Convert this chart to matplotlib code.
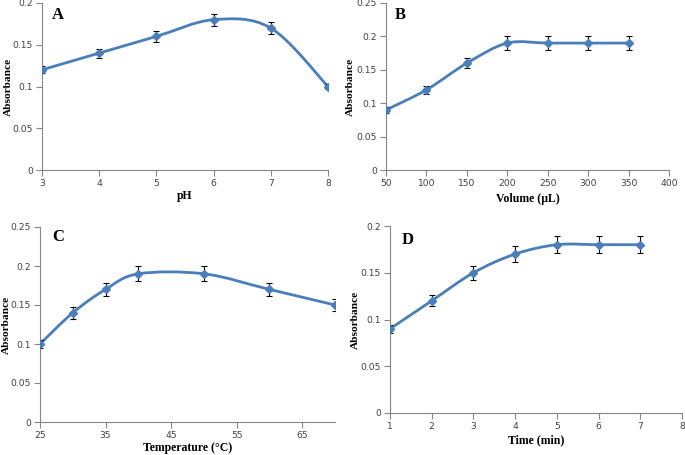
import numpy as np
import matplotlib
matplotlib.use('Agg')
import matplotlib.pyplot as plt
from matplotlib.path import Path
from matplotlib.patches import PathPatch

ph=[3,4,5,6,7,8]
abs_ph=[0.12,0.14,0.16,0.18,0.17,0.10]
err_ph=[0.004,0.0055,0.0065,0.007,0.007,0.0035]

vol=[50,100,150,200,250,300,350]
abs_vol=[0.09,0.12,0.16,0.19,0.19,0.19,0.19]
err_vol=[0.004,0.006,0.008,0.01,0.01,0.01,0.01]

temp=[25,30,35,40,50,60,70]
abs_temp=[0.10,0.14,0.17,0.19,0.19,0.17,0.15]
err_temp=[0.0045,0.008,0.0085,0.0095,0.0095,0.0085,0.008]

tmin=[1,2,3,4,5,6,7]
abs_time=[0.09,0.12,0.15,0.17,0.18,0.18,0.18]
err_time=[0.0045,0.006,0.0075,0.009,0.0093,0.0093,0.0093]

BLUE='#4a7ebb'
GREY='#868686'
SERIF='Liberation Serif'
W,H=685,455

def smooth_path(x,y):
    # excel-like smoothed line: cubic bezier through the points
    p=np.column_stack([x,y]).astype(float)
    n=len(p)
    verts=[p[0]]
    codes=[Path.MOVETO]
    for i in range(n-1):
        p0=p[i-1] if i>0 else p[i]
        p1=p[i]
        p2=p[i+1]
        p3=p[i+2] if i+2<n else p[i+1]
        verts+=[p1+(p2-p0)/6.0,p2-(p3-p1)/6.0,p2]
        codes+=[Path.CURVE4]*3
    return Path(verts,codes)

def panel(box,x,y,err,xlim,xticks,ylim,yticks,xlabel,letter,lpos,ylab_x,xlab_y):
    # box in pixels: left, top, right, bottom
    l,t,r,b=box
    ax=fig.add_axes([l/W,1-b/H,(r-l)/W,(b-t)/H])
    ax.add_patch(PathPatch(smooth_path(x,y),fill=False,edgecolor=BLUE,lw=2.0,zorder=3))
    ax.errorbar(x,y,yerr=err,fmt='D',color=BLUE,ms=4.5,ecolor='black',elinewidth=0.8,capsize=2.5,capthick=0.8,zorder=4)
    ax.set_xlim(*xlim)
    ax.set_ylim(*ylim)
    ax.set_xticks(xticks)
    ax.set_yticks(yticks)
    ax.set_yticklabels([('%g'%v) for v in yticks])
    for s in ['top','right']:
        ax.spines[s].set_visible(False)
    for s in ['left','bottom']:
        ax.spines[s].set_color(GREY)
        ax.spines[s].set_linewidth(0.8)
    ax.tick_params(direction='out',length=4,width=0.8,color=GREY,labelsize=6.6,labelcolor='#404040',pad=2.5)
    ax.set_xlabel(xlabel,fontfamily=SERIF,fontweight='bold',fontsize=8.5)
    ax.set_ylabel('Absorbance',fontfamily=SERIF,fontweight='bold',fontsize=8.2)
    ax.xaxis.set_label_coords(0.5,(b-xlab_y)/(b-t))
    ax.yaxis.set_label_coords((ylab_x-l)/(r-l),0.5)
    ax.xaxis.label.set_va('center')
    ax.yaxis.label.set_va('center')
    ax.text(lpos[0],lpos[1],letter,transform=ax.transAxes,fontfamily=SERIF,fontweight='bold',fontsize=12,va='center',ha='left')
    return ax

fig=plt.figure(figsize=(W/100,H/100),dpi=100)
panel((42,3,328,170),ph,abs_ph,err_ph,(3,8),[3,4,5,6,7,8],(0,0.2),[0,0.05,0.1,0.15,0.2],'pH','A',(0.035,0.93),8,196)
panel((386,3,669,170),vol,abs_vol,err_vol,(50,400),[50,100,150,200,250,300,350,400],(0,0.25),[0,0.05,0.1,0.15,0.2,0.25],'Volume (µL)','B',(0.03,0.93),350,199)
panel((40,227,335,422),temp,abs_temp,err_temp,(25,70),[25,35,45,55,65],(0,0.25),[0,0.05,0.1,0.15,0.2,0.25],'Temperature (°C)','C',(0.04,0.95),6,448)
panel((390,226,682,413),tmin,abs_time,err_time,(1,8),[1,2,3,4,5,6,7,8],(0,0.2),[0,0.05,0.1,0.15,0.2],'Time (min)','D',(0.04,0.925),355,440)
fig.savefig('out.png',dpi=100)
